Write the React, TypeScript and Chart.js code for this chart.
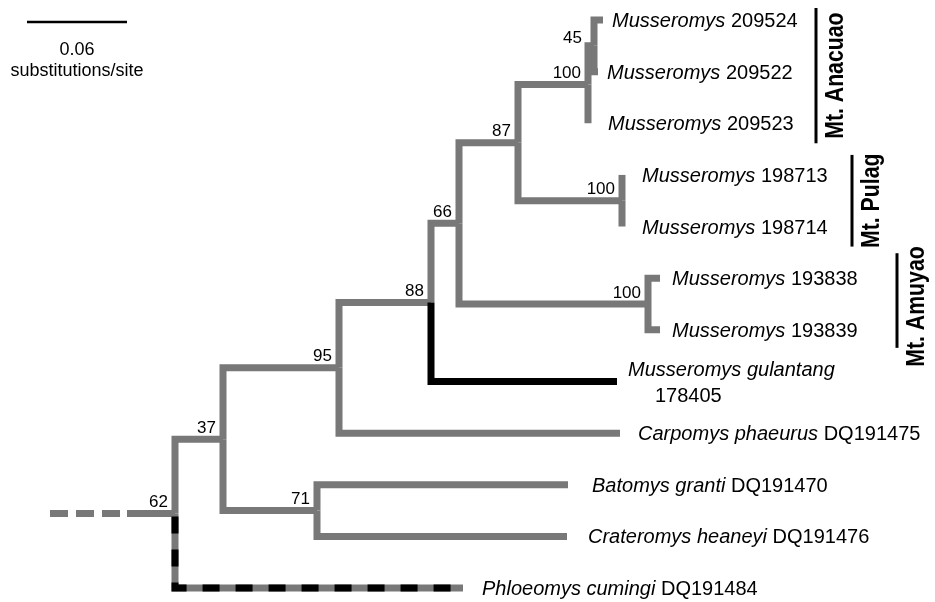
import React, { useEffect, useRef } from "react";
import { Chart, registerables } from "chart.js";

Chart.register(...registerables);

// ---------------- DATA ----------------
// Leaves (top to bottom). Italic part of the label, plain part, parent node, depth (substitutions/site from root)
const leafItalic = [
  "Musseromys",
  "Musseromys",
  "Musseromys",
  "Musseromys",
  "Musseromys",
  "Musseromys",
  "Musseromys",
  "Musseromys gulantang",
  "Carpomys phaeurus",
  "Batomys granti",
  "Crateromys heaneyi",
  "Phloeomys cumingi",
];
const leafPlain = [
  "209524",
  "209522",
  "209523",
  "198713",
  "198714",
  "193838",
  "193839",
  "178405",
  "DQ191475",
  "DQ191470",
  "DQ191476",
  "DQ191484",
];
const leafParent = ["n45", "n45", "nAnac", "nPulag", "nPulag", "nAmuyao", "nAmuyao", "n88", "n95", "n71", "n71", "root"];
const leafDepth = [0.2568, 0.2538, 0.2478, 0.2682, 0.2682, 0.291, 0.291, 0.2652, 0.267, 0.2358, 0.2352, 0.1728];

// Internal nodes
const nodeIds = ["root", "n37", "n95", "n88", "n66", "n87", "nAnac", "n45", "nPulag", "nAmuyao", "n71"];
const nodeParent = ["", "root", "n37", "n95", "n88", "n66", "n87", "nAnac", "n87", "n66", "n37"];
const nodeDepth = [0, 0.0288, 0.0984, 0.1536, 0.1704, 0.2058, 0.2478, 0.2514, 0.2682, 0.2838, 0.0852];
const nodeSupport = ["62", "37", "95", "88", "66", "87", "100", "45", "100", "100", "71"];

// Root stem (outgroup stub), start depth
const rootStemStart = -0.075;

// Clades
const cladeNames = ["Mt. Anacuao", "Mt. Pulag", "Mt. Amuyao"];
const cladeFirstLeaf = [0, 3, 5];
const cladeLastLeaf = [2, 4, 6];

// Scale bar
const scaleBarLength = 0.06;
const scaleBarStart = -0.0888;
const scaleBarLabel = "0.06";
const scaleBarUnit = "substitutions/site";

// ---------------- AXES / LAYOUT ----------------
const X_MIN = -0.105;
const X_MAX = 0.456;
const Y_MIN = -0.3873;
const Y_MAX = 11.27;

const GRAY = "#787878";
const BLACK = "#000000";
const LINE_W = 7;
const FONT = '"Liberation Sans", Arial, Helvetica, sans-serif';

const leafLabelGap = [9, 9, 20, 20, 20, 12, 12, 11, 18, 24, 21, 19];
const leafWrap = [false, false, false, false, false, false, false, true, false, false, false, false];
const blackLeaves = [7];
const dashedLeaves = [11];

const cladeBarX = [816, 852, 897];
const cladePadTop = [12, 20, 25];
const cladePadBottom = [20, 20, 18];
const cladeTextShift = [0, 0, 6];

// ---------------- TREE GEOMETRY ----------------
function buildY() {
  const yMap: Record<string, number> = {};
  const depthMap: Record<string, number> = {};
  nodeIds.forEach((id, i) => (depthMap[id] = nodeDepth[i]));
  const childYs = (id: string): number[] => {
    const ys: number[] = [];
    leafParent.forEach((p, i) => {
      if (p === id) ys.push(i);
    });
    nodeParent.forEach((p, i) => {
      if (p === id) ys.push(nodeY(nodeIds[i]));
    });
    return ys;
  };
  const nodeY = (id: string): number => {
    if (yMap[id] !== undefined) return yMap[id];
    const ys = childYs(id);
    const v = (Math.min(...ys) + Math.max(...ys)) / 2;
    yMap[id] = v;
    return v;
  };
  nodeIds.forEach((id) => nodeY(id));
  return { yMap, depthMap };
}

export default function App() {
  const ref = useRef<HTMLCanvasElement | null>(null);

  useEffect(() => {
    document.body.style.margin = "0";
    const canvas = ref.current;
    if (!canvas) return;
    const { yMap, depthMap } = buildY();

    const datasets: any[] = [];
    const lpath = (px: number, py: number, cx: number, cy: number) => [
      { x: px, y: py },
      { x: px, y: cy },
      { x: cx, y: cy },
    ];
    const base = {
      showLine: true,
      pointRadius: 0,
      pointHoverRadius: 0,
      borderWidth: LINE_W,
      borderJoinStyle: "miter",
      borderCapStyle: "butt",
      tension: 0,
      fill: false,
    };

    // root stem
    datasets.push({
      ...base,
      data: [
        { x: rootStemStart, y: yMap["root"] },
        { x: depthMap["root"], y: yMap["root"] },
      ],
      borderColor: GRAY,
      borderDash: [18, 8, 18, 8, 18, 7, 200],
      order: 2,
    });

    // internal branches
    nodeIds.forEach((id, i) => {
      const p = nodeParent[i];
      if (!p) return;
      datasets.push({
        ...base,
        data: lpath(depthMap[p], yMap[p], nodeDepth[i], yMap[id]),
        borderColor: GRAY,
        order: 2,
      });
    });

    // leaf branches
    leafParent.forEach((p, i) => {
      const pts = lpath(depthMap[p], yMap[p], leafDepth[i], i);
      const isBlack = blackLeaves.includes(i);
      datasets.push({
        ...base,
        data: pts,
        borderColor: isBlack ? BLACK : GRAY,
        order: isBlack ? 1 : 2,
      });
      if (dashedLeaves.includes(i)) {
        datasets.push({
          ...base,
          data: pts,
          borderColor: BLACK,
          borderDash: [17, 16],
          borderDashOffset: 30,
          order: 0,
        });
      }
    });

    const textPlugin = {
      id: "treeText",
      beforeDraw(chart: any) {
        const c = chart.ctx;
        c.save();
        c.fillStyle = "#ffffff";
        c.fillRect(0, 0, chart.width, chart.height);
        c.restore();
      },
      afterDatasetsDraw(chart: any) {
        const c: CanvasRenderingContext2D = chart.ctx;
        const xs = chart.scales.x;
        const ys = chart.scales.y;
        c.save();
        c.fillStyle = "#000";

        // leaf labels
        c.textAlign = "left";
        c.textBaseline = "alphabetic";
        leafItalic.forEach((it, i) => {
          const tx = xs.getPixelForValue(leafDepth[i]) + leafLabelGap[i];
          const ty = ys.getPixelForValue(i);
          c.font = `italic 20px ${FONT}`;
          if (leafWrap[i]) {
            c.fillText(it, tx, ty - 5);
            c.font = `20px ${FONT}`;
            c.fillText(leafPlain[i], tx + 27, ty + 21);
          } else {
            c.fillText(it, tx, ty + 7);
            const w = c.measureText(it + " ").width;
            c.font = `20px ${FONT}`;
            c.fillText(leafPlain[i], tx + w, ty + 7);
          }
        });

        // support values
        c.font = `17px ${FONT}`;
        c.textAlign = "right";
        nodeIds.forEach((id, i) => {
          const px = xs.getPixelForValue(nodeDepth[i]);
          const py = ys.getPixelForValue(yMap[id]);
          const p = nodeParent[i];
          const ppx = p ? xs.getPixelForValue(depthMap[p]) : px - 100;
          if (px - ppx < 10) {
            c.fillText(nodeSupport[i], ppx - 6, py - 3);
          } else {
            c.fillText(nodeSupport[i], px - 7, py - 6.5);
          }
        });

        // clade bars and labels
        cladeNames.forEach((name, k) => {
          const top = ys.getPixelForValue(cladeFirstLeaf[k]) - cladePadTop[k];
          const bot = ys.getPixelForValue(cladeLastLeaf[k]) + cladePadBottom[k];
          c.strokeStyle = "#000";
          c.lineWidth = 3;
          c.beginPath();
          c.moveTo(cladeBarX[k], top);
          c.lineTo(cladeBarX[k], bot);
          c.stroke();
          c.save();
          c.translate(cladeBarX[k] + 27, (top + bot) / 2 + cladeTextShift[k]);
          c.rotate(-Math.PI / 2);
          c.scale(0.85, 1);
          c.font = `bold 25px ${FONT}`;
          c.textAlign = "center";
          c.textBaseline = "alphabetic";
          c.fillText(name, 0, 0);
          c.restore();
        });

        // scale bar
        const sx0 = xs.getPixelForValue(scaleBarStart);
        const sx1 = xs.getPixelForValue(scaleBarStart + scaleBarLength);
        c.strokeStyle = "#000";
        c.lineWidth = 2.5;
        c.beginPath();
        c.moveTo(sx0, 22);
        c.lineTo(sx1, 22);
        c.stroke();
        c.font = `18px ${FONT}`;
        c.textAlign = "center";
        const mid = (sx0 + sx1) / 2;
        c.fillText(scaleBarLabel, mid, 55);
        c.fillText(scaleBarUnit, mid, 76);
        c.restore();
      },
    };

    const chart = new Chart(canvas, {
      type: "scatter",
      data: { datasets },
      options: {
        animation: false,
        responsive: false,
        devicePixelRatio: 1,
        events: [],
        layout: { padding: 0 },
        plugins: { legend: { display: false }, tooltip: { enabled: false } },
        scales: {
          x: { type: "linear", display: false, min: X_MIN, max: X_MAX },
          y: { type: "linear", display: false, min: Y_MIN, max: Y_MAX, reverse: true },
        },
      } as any,
      plugins: [textPlugin],
    });
    return () => chart.destroy();
  }, []);

  return (
    <canvas
      ref={ref}
      width={935}
      height={602}
      style={{ display: "block", width: 935, height: 602 }}
    />
  );
}
